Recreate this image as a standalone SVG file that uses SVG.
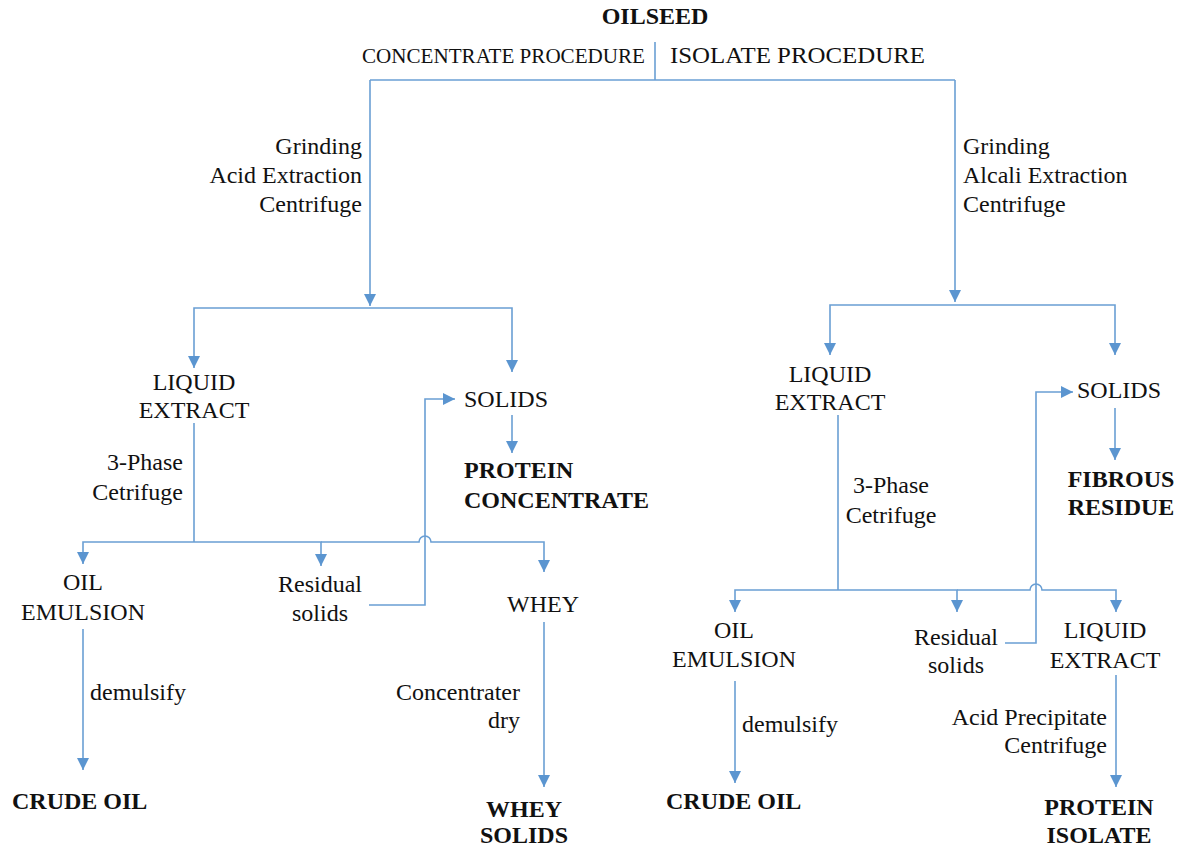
<svg xmlns="http://www.w3.org/2000/svg" width="1188" height="854" viewBox="0 0 1188 854">
<style>
text{font-family:"Liberation Serif","Times New Roman","DejaVu Serif",serif;font-size:24px;fill:#111}
.b{font-weight:bold}
.m{text-anchor:middle}
.e{text-anchor:end}
.c path{fill:none;stroke:#6a9fd4;stroke-width:1.6}
</style>
<defs>
<marker id="ah" markerUnits="userSpaceOnUse" markerWidth="14" markerHeight="14" refX="12" refY="6" orient="auto">
<path d="M0,0 L12,6 L0,12 Z" fill="#5b95d0"/>
</marker>
</defs>
<rect width="1188" height="854" fill="#fff"/>
<g id="connectors" class="c">
<path d="M655,42 V80"/>
<path d="M370,80 H955"/>
<path d="M370,80 V306" marker-end="url(#ah)"/>
<path d="M370,308 H194 V368" marker-end="url(#ah)"/>
<path d="M370,308 H512 V372" marker-end="url(#ah)"/>
<path d="M194,423 V542"/>
<path d="M194,542 H83 V564" marker-end="url(#ah)"/>
<path d="M194,542 H321 V566" marker-end="url(#ah)"/>
<path d="M321,542 H419 A6,6 0 0 1 431,542 H544 V572" marker-end="url(#ah)"/>
<path d="M369,605 H425 V399 H455" marker-end="url(#ah)"/>
<path d="M512,415 V453" marker-end="url(#ah)"/>
<path d="M83,629 V770" marker-end="url(#ah)"/>
<path d="M544,622 V787" marker-end="url(#ah)"/>
<path d="M955,80 V302" marker-end="url(#ah)"/>
<path d="M955,305 H830 V355" marker-end="url(#ah)"/>
<path d="M955,305 H1115 V355" marker-end="url(#ah)"/>
<path d="M838,415 V590"/>
<path d="M838,590 H735 V612" marker-end="url(#ah)"/>
<path d="M838,590 H957 V612" marker-end="url(#ah)"/>
<path d="M957,590 H1030 A6,6 0 0 1 1042,590 H1116 V612" marker-end="url(#ah)"/>
<path d="M1005,643 H1036 V392 H1073" marker-end="url(#ah)"/>
<path d="M1115,408 V460" marker-end="url(#ah)"/>
<path d="M735,681 V783" marker-end="url(#ah)"/>
<path d="M1116,675 V787" marker-end="url(#ah)"/>
</g>
<g id="oilseed"><text class="b m" x="655" y="24">OILSEED</text></g>
<g id="concentrate-procedure"><text x="362" y="63" style="font-size:21px" textLength="283" lengthAdjust="spacingAndGlyphs">CONCENTRATE PROCEDURE</text></g>
<g id="isolate-procedure"><text x="670" y="63" textLength="255" lengthAdjust="spacingAndGlyphs">ISOLATE PROCEDURE</text></g>
<g id="label-acid-extraction">
<text class="e" x="362" y="154">Grinding</text>
<text class="e" x="362" y="183">Acid Extraction</text>
<text class="e" x="362" y="212">Centrifuge</text>
</g>
<g id="label-alcali-extraction">
<text x="963" y="154">Grinding</text>
<text x="963" y="183">Alcali Extraction</text>
<text x="963" y="212">Centrifuge</text>
</g>
<g id="liquid-extract-1"><text class="m" x="194" y="390">LIQUID</text><text class="m" x="194" y="418">EXTRACT</text></g>
<g id="label-3phase-1"><text class="e" x="183" y="470">3-Phase</text><text class="e" x="183" y="500">Cetrifuge</text></g>
<g id="solids-1"><text x="464" y="407">SOLIDS</text></g>
<g id="protein-concentrate"><text class="b" x="464" y="478">PROTEIN</text><text class="b" x="464" y="508">CONCENTRATE</text></g>
<g id="oil-emulsion-1"><text class="m" x="83" y="590">OIL</text><text class="m" x="83" y="620">EMULSION</text></g>
<g id="residual-solids-1"><text class="m" x="320" y="592">Residual</text><text class="m" x="320" y="621">solids</text></g>
<g id="whey"><text class="m" x="543" y="612">WHEY</text></g>
<g id="label-demulsify-1"><text x="90" y="700">demulsify</text></g>
<g id="label-concentrater"><text class="e" x="520" y="700">Concentrater</text><text class="e" x="520" y="728">dry</text></g>
<g id="crude-oil-1"><text class="b" x="12" y="809">CRUDE OIL</text></g>
<g id="whey-solids"><text class="b m" x="524" y="817">WHEY</text><text class="b m" x="524" y="843">SOLIDS</text></g>
<g id="liquid-extract-2"><text class="m" x="830" y="382">LIQUID</text><text class="m" x="830" y="410">EXTRACT</text></g>
<g id="solids-2"><text x="1077" y="398">SOLIDS</text></g>
<g id="fibrous-residue"><text class="b m" x="1121" y="487">FIBROUS</text><text class="b m" x="1121" y="515">RESIDUE</text></g>
<g id="label-3phase-2"><text class="m" x="891" y="493">3-Phase</text><text class="m" x="891" y="523">Cetrifuge</text></g>
<g id="oil-emulsion-2"><text class="m" x="734" y="638">OIL</text><text class="m" x="734" y="667">EMULSION</text></g>
<g id="residual-solids-2"><text class="m" x="956" y="645">Residual</text><text class="m" x="956" y="673">solids</text></g>
<g id="liquid-extract-3"><text class="m" x="1105" y="638">LIQUID</text><text class="m" x="1105" y="668">EXTRACT</text></g>
<g id="label-demulsify-2"><text x="742" y="732">demulsify</text></g>
<g id="label-acid-precipitate"><text class="e" x="1107" y="725">Acid Precipitate</text><text class="e" x="1107" y="753">Centrifuge</text></g>
<g id="crude-oil-2"><text class="b" x="666" y="809">CRUDE OIL</text></g>
<g id="protein-isolate"><text class="b m" x="1099" y="815">PROTEIN</text><text class="b m" x="1099" y="843">ISOLATE</text></g>
</svg>
